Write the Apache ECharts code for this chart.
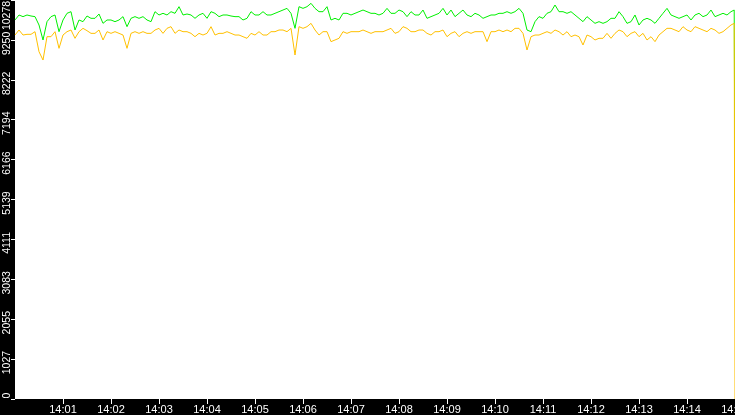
<!DOCTYPE html>
<html>
<head>
<meta charset="utf-8">
<script src="https://cdn.jsdelivr.net/npm/echarts@6/dist/echarts.min.js"></script>
<style>
html,body{margin:0;padding:0;background:#000;}
#c{width:735px;height:415px;}
</style>
</head>
<body>
<div id="c"></div>
<script>
// time axis: seconds after 14:00:00, one sample every 5 s, then the final drop
const startHour = 14;
const stepSeconds = 5;
const tickMinutes = [1,2,3,4,5,6,7,8,9,10,11,12,13,14,15];
const yTickValues = [0,1027.8,2055.6,3083.4,4111.2,5139,6166.8,7194.6,8222.4,9250.2,10278];

const greenValues = [
 9763,9892,9849,9892,9866,9849,9634,9248,9720,9849,9892,9462,9763,9935,9977,9505,9763,9720,9866,9806,9806,9917,9677,9763,9763,9720,9763,9849,9591,9806,
 9849,9806,9849,9763,9720,9977,9892,9935,9892,9977,9935,10106,9892,9917,9892,9806,9892,9935,9806,9977,9935,9849,9892,9892,9866,9849,9849,9763,9806,9977,
 9892,9892,9977,9892,9892,9935,9977,10020,10063,9935,9548,10106,10063,10106,10192,10063,9977,9977,10106,9763,9806,9763,9935,9935,9892,9935,9977,10020,9977,9935,
 9935,9892,9935,10063,9935,9935,10020,9977,9849,9977,9892,9892,10020,9806,9849,9892,9935,10063,9892,10020,9849,9935,10020,9892,9849,9935,9892,9806,9849,9892,
 9892,9935,9935,9977,9935,9977,10063,9935,9505,9462,9720,9849,9806,9935,9977,10149,9977,9977,9935,9977,9892,9806,9720,9849,9763,9677,9720,9677,9720,9806,
 9806,9977,9849,9677,9720,9892,9634,9763,9806,9763,9677,9806,9935,10063,9892,9849,9806,9849,9892,9763,9892,9935,9849,9892,10020,9849,9892,9935,9892,9977
];
const greenTail = [10020, 5050];

const orangeValues = [
 9376,9505,9376,9394,9394,9462,8947,8732,9333,9333,9462,9033,9376,9462,9505,9291,9462,9548,9488,9419,9419,9505,9248,9462,9419,9462,9419,9376,9033,9419,
 9462,9419,9462,9419,9419,9505,9548,9419,9548,9591,9419,9505,9462,9462,9419,9333,9419,9376,9419,9591,9376,9419,9419,9462,9419,9376,9376,9333,9291,9419,
 9376,9462,9376,9376,9462,9462,9505,9505,9462,9548,8861,9591,9548,9591,9677,9505,9376,9462,9462,9205,9248,9291,9462,9419,9462,9462,9462,9505,9462,9419,
 9462,9462,9462,9505,9548,9419,9462,9591,9548,9462,9462,9505,9505,9419,9376,9462,9462,9505,9333,9419,9462,9333,9419,9462,9419,9462,9462,9462,9205,9462,
 9462,9505,9462,9505,9462,9548,9548,9419,8990,9333,9376,9376,9419,9462,9419,9505,9462,9376,9462,9333,9376,9333,9119,9376,9333,9248,9291,9291,9419,9291,
 9419,9505,9462,9333,9419,9462,9333,9419,9248,9333,9205,9376,9462,9548,9548,9505,9462,9591,9505,9462,9591,9548,9505,9462,9548,9505,9419,9462,9548,9634
];
const orangeTail = [9677, 0];
const tailSeconds = [899, 900];

function buildPairs(vals, tail) {
  const out = vals.map((v, i) => [i * stepSeconds, v]);
  tail.forEach((v, k) => out.push([tailSeconds[k], v]));
  return out;
}

const chart = echarts.init(document.getElementById('c'), null, {renderer: 'canvas'});
const yMax = yTickValues[yTickValues.length - 1];
const yStep = yTickValues[1];
const FONT = 'Liberation Sans';
const YFS = 10.5;

function yLabel(v) {
  const s = String(Math.floor(v + 0.01));
  if (v >= yMax - 0.5) return '{top|' + s + '}';
  if (v <= 0.5) return '{bot|' + s + '}';
  return '{mid|' + s + '}';
}
const yRich = {
  top: {color: '#ffffff', fontFamily: FONT, fontSize: YFS, padding: [0, 31, 0, 0]},
  mid: {color: '#ffffff', fontFamily: FONT, fontSize: YFS, padding: [0, 7, 0, 0]},
  bot: {color: '#ffffff', fontFamily: FONT, fontSize: YFS, padding: [0, 0, 0, 7]}
};

chart.setOption({
  animation: false,
  backgroundColor: '#000000',
  grid: {
    left: 15, right: 0, top: 0, bottom: 16,
    show: true, backgroundColor: '#ffffff', borderWidth: 0,
    containLabel: false,
    outerBoundsMode: 'none'
  },
  xAxis: {
    type: 'value',
    min: 0, max: 900,
    interval: 60,
    axisLine: {show: false},
    splitLine: {show: false},
    axisTick: {
      show: true, length: 5, inside: false,
      lineStyle: {color: '#ffffff', width: 1},
      customValues: tickMinutes.map(m => m * 60)
    },
    axisLabel: {
      color: '#ffffff',
      fontFamily: FONT,
      fontSize: 11,
      margin: 5,
      hideOverlap: false,
      customValues: tickMinutes.map(m => m * 60),
      formatter: function (v) {
        const m = Math.round(v / 60);
        return startHour + ':' + String(m).padStart(2, '0');
      }
    }
  },
  yAxis: [
    {
      type: 'value',
      min: 0, max: yMax,
      interval: yStep,
      position: 'left',
      axisLine: {show: false},
      splitLine: {show: false},
      axisTick: {show: true, length: 4, lineStyle: {color: '#ffffff', width: 1}},
      axisLabel: {
        color: '#ffffff',
        fontFamily: FONT,
        fontSize: YFS,
        rotate: 90,
        margin: 2,
        hideOverlap: false,
        customValues: yTickValues.slice(0, yTickValues.length - 1),
        formatter: yLabel,
        rich: yRich
      }
    },
    {
      type: 'value',
      min: 0, max: yMax,
      interval: yStep,
      position: 'left',
      offset: 0,
      axisLine: {show: false},
      splitLine: {show: false},
      axisTick: {show: false},
      axisLabel: {
        color: '#ffffff',
        fontFamily: FONT,
        fontSize: YFS,
        rotate: 90,
        margin: 2,
        hideOverlap: false,
        customValues: [yMax],
        formatter: yLabel,
        rich: yRich
      }
    }
  ],
  series: [
    {
      name: 'green', type: 'line', showSymbol: false, symbol: 'none',
      yAxisIndex: 0,
      data: buildPairs(greenValues, greenTail),
      lineStyle: {color: '#00f000', width: 1},
      itemStyle: {color: '#00f000'},
      z: 2
    },
    {
      name: 'orange', type: 'line', showSymbol: false, symbol: 'none',
      yAxisIndex: 0,
      data: buildPairs(orangeValues, orangeTail),
      lineStyle: {color: '#ffc000', width: 1},
      itemStyle: {color: '#ffc000'},
      z: 3
    }
  ]
});
</script>
</body>
</html>
